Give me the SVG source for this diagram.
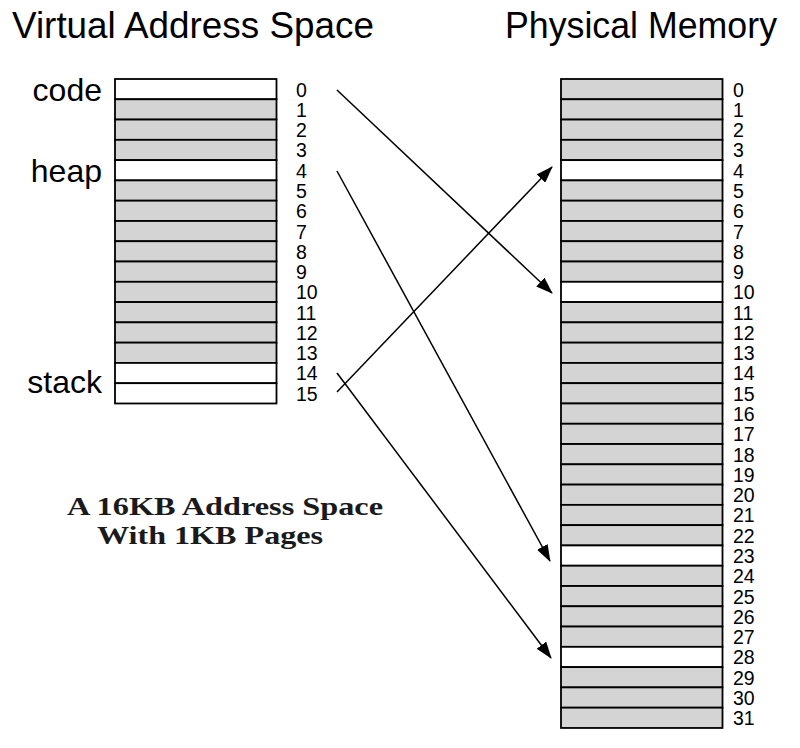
<svg xmlns="http://www.w3.org/2000/svg" width="800" height="748" viewBox="0 0 800 748">
<style>
.title{font-family:"Liberation Sans",Arial,sans-serif;font-size:36px;fill:#000}
.seg{font-family:"Liberation Sans",Arial,sans-serif;font-size:32px;fill:#000;text-anchor:end}
.num{font-family:"Liberation Sans",Arial,sans-serif;font-size:19.5px;fill:#000}
.pg{fill:#d4d4d4;stroke:#000;stroke-width:1.8}
.pw{fill:#fff;stroke:#000;stroke-width:1.8}
.cap{font-family:"Liberation Serif","Times New Roman",serif;font-weight:bold;font-size:26px;fill:#1a1a1a}
.arr{fill:none;stroke:#000;stroke-width:1.5}
</style>
<defs>
<marker id="ah" viewBox="0 0 17 12" refX="16" refY="6" markerWidth="17" markerHeight="12" markerUnits="userSpaceOnUse" orient="auto">
<path d="M0,0 L17,6 L0,12 z" fill="#000"/>
</marker>
</defs>
<rect width="800" height="748" fill="#fff"/>
<text class="title" x="12" y="38" textLength="362" lengthAdjust="spacingAndGlyphs">Virtual Address Space</text>
<text class="title" x="505" y="38" textLength="272" lengthAdjust="spacingAndGlyphs">Physical Memory</text>
<g id="labels">
<text class="seg" x="102" y="101">code</text>
<text class="seg" x="102" y="182">heap</text>
<text class="seg" x="102" y="393">stack</text>
</g>
<g id="virtual-space">
<g id="vp0"><rect class="pw" x="115" y="79" width="161.5" height="20.28"/><text class="num" x="296" y="96.5">0</text></g>
<g id="vp1"><rect class="pg" x="115" y="99.28" width="161.5" height="20.28"/><text class="num" x="296" y="116.8">1</text></g>
<g id="vp2"><rect class="pg" x="115" y="119.56" width="161.5" height="20.28"/><text class="num" x="296" y="137.1">2</text></g>
<g id="vp3"><rect class="pg" x="115" y="139.84" width="161.5" height="20.28"/><text class="num" x="296" y="157.3">3</text></g>
<g id="vp4"><rect class="pw" x="115" y="160.12" width="161.5" height="20.28"/><text class="num" x="296" y="177.6">4</text></g>
<g id="vp5"><rect class="pg" x="115" y="180.4" width="161.5" height="20.28"/><text class="num" x="296" y="197.9">5</text></g>
<g id="vp6"><rect class="pg" x="115" y="200.68" width="161.5" height="20.28"/><text class="num" x="296" y="218.2">6</text></g>
<g id="vp7"><rect class="pg" x="115" y="220.96" width="161.5" height="20.28"/><text class="num" x="296" y="238.5">7</text></g>
<g id="vp8"><rect class="pg" x="115" y="241.24" width="161.5" height="20.28"/><text class="num" x="296" y="258.7">8</text></g>
<g id="vp9"><rect class="pg" x="115" y="261.52" width="161.5" height="20.28"/><text class="num" x="296" y="279">9</text></g>
<g id="vp10"><rect class="pg" x="115" y="281.8" width="161.5" height="20.28"/><text class="num" x="296" y="299.3">10</text></g>
<g id="vp11"><rect class="pg" x="115" y="302.08" width="161.5" height="20.28"/><text class="num" x="296" y="319.6">11</text></g>
<g id="vp12"><rect class="pg" x="115" y="322.36" width="161.5" height="20.28"/><text class="num" x="296" y="339.9">12</text></g>
<g id="vp13"><rect class="pg" x="115" y="342.64" width="161.5" height="20.28"/><text class="num" x="296" y="360.1">13</text></g>
<g id="vp14"><rect class="pw" x="115" y="362.92" width="161.5" height="20.28"/><text class="num" x="296" y="380.4">14</text></g>
<g id="vp15"><rect class="pw" x="115" y="383.2" width="161.5" height="20.28"/><text class="num" x="296" y="400.7">15</text></g>
</g>
<g id="physical-memory">
<g id="pf0"><rect class="pg" x="561" y="79" width="161.5" height="20.28"/><text class="num" x="733" y="96.5">0</text></g>
<g id="pf1"><rect class="pg" x="561" y="99.28" width="161.5" height="20.28"/><text class="num" x="733" y="116.8">1</text></g>
<g id="pf2"><rect class="pg" x="561" y="119.56" width="161.5" height="20.28"/><text class="num" x="733" y="137.1">2</text></g>
<g id="pf3"><rect class="pg" x="561" y="139.84" width="161.5" height="20.28"/><text class="num" x="733" y="157.3">3</text></g>
<g id="pf4"><rect class="pw" x="561" y="160.12" width="161.5" height="20.28"/><text class="num" x="733" y="177.6">4</text></g>
<g id="pf5"><rect class="pg" x="561" y="180.4" width="161.5" height="20.28"/><text class="num" x="733" y="197.9">5</text></g>
<g id="pf6"><rect class="pg" x="561" y="200.68" width="161.5" height="20.28"/><text class="num" x="733" y="218.2">6</text></g>
<g id="pf7"><rect class="pg" x="561" y="220.96" width="161.5" height="20.28"/><text class="num" x="733" y="238.5">7</text></g>
<g id="pf8"><rect class="pg" x="561" y="241.24" width="161.5" height="20.28"/><text class="num" x="733" y="258.7">8</text></g>
<g id="pf9"><rect class="pg" x="561" y="261.52" width="161.5" height="20.28"/><text class="num" x="733" y="279">9</text></g>
<g id="pf10"><rect class="pw" x="561" y="281.8" width="161.5" height="20.28"/><text class="num" x="733" y="299.3">10</text></g>
<g id="pf11"><rect class="pg" x="561" y="302.08" width="161.5" height="20.28"/><text class="num" x="733" y="319.6">11</text></g>
<g id="pf12"><rect class="pg" x="561" y="322.36" width="161.5" height="20.28"/><text class="num" x="733" y="339.9">12</text></g>
<g id="pf13"><rect class="pg" x="561" y="342.64" width="161.5" height="20.28"/><text class="num" x="733" y="360.1">13</text></g>
<g id="pf14"><rect class="pg" x="561" y="362.92" width="161.5" height="20.28"/><text class="num" x="733" y="380.4">14</text></g>
<g id="pf15"><rect class="pg" x="561" y="383.2" width="161.5" height="20.28"/><text class="num" x="733" y="400.7">15</text></g>
<g id="pf16"><rect class="pg" x="561" y="403.48" width="161.5" height="20.28"/><text class="num" x="733" y="421">16</text></g>
<g id="pf17"><rect class="pg" x="561" y="423.76" width="161.5" height="20.28"/><text class="num" x="733" y="441.3">17</text></g>
<g id="pf18"><rect class="pg" x="561" y="444.04" width="161.5" height="20.28"/><text class="num" x="733" y="461.5">18</text></g>
<g id="pf19"><rect class="pg" x="561" y="464.32" width="161.5" height="20.28"/><text class="num" x="733" y="481.8">19</text></g>
<g id="pf20"><rect class="pg" x="561" y="484.6" width="161.5" height="20.28"/><text class="num" x="733" y="502.1">20</text></g>
<g id="pf21"><rect class="pg" x="561" y="504.88" width="161.5" height="20.28"/><text class="num" x="733" y="522.4">21</text></g>
<g id="pf22"><rect class="pg" x="561" y="525.16" width="161.5" height="20.28"/><text class="num" x="733" y="542.7">22</text></g>
<g id="pf23"><rect class="pw" x="561" y="545.44" width="161.5" height="20.28"/><text class="num" x="733" y="562.9">23</text></g>
<g id="pf24"><rect class="pg" x="561" y="565.72" width="161.5" height="20.28"/><text class="num" x="733" y="583.2">24</text></g>
<g id="pf25"><rect class="pg" x="561" y="586" width="161.5" height="20.28"/><text class="num" x="733" y="603.5">25</text></g>
<g id="pf26"><rect class="pg" x="561" y="606.28" width="161.5" height="20.28"/><text class="num" x="733" y="623.8">26</text></g>
<g id="pf27"><rect class="pg" x="561" y="626.56" width="161.5" height="20.28"/><text class="num" x="733" y="644.1">27</text></g>
<g id="pf28"><rect class="pw" x="561" y="646.84" width="161.5" height="20.28"/><text class="num" x="733" y="664.3">28</text></g>
<g id="pf29"><rect class="pg" x="561" y="667.12" width="161.5" height="20.28"/><text class="num" x="733" y="684.6">29</text></g>
<g id="pf30"><rect class="pg" x="561" y="687.4" width="161.5" height="20.28"/><text class="num" x="733" y="704.9">30</text></g>
<g id="pf31"><rect class="pg" x="561" y="707.68" width="161.5" height="20.28"/><text class="num" x="733" y="725.2">31</text></g>
</g>
<g id="connectors">
<line class="arr" x1="337" y1="90" x2="552" y2="293" marker-end="url(#ah)"/>
<line class="arr" x1="337" y1="171" x2="550" y2="561" marker-end="url(#ah)"/>
<line class="arr" x1="337" y1="373" x2="551" y2="658" marker-end="url(#ah)"/>
<line class="arr" x1="337" y1="392" x2="552" y2="167" marker-end="url(#ah)"/>
</g>
<g id="caption">
<text class="cap" x="67" y="515" textLength="316" lengthAdjust="spacingAndGlyphs">A 16KB Address Space</text>
<text class="cap" x="97" y="544" textLength="226" lengthAdjust="spacingAndGlyphs">With 1KB Pages</text>
</g>
</svg>
